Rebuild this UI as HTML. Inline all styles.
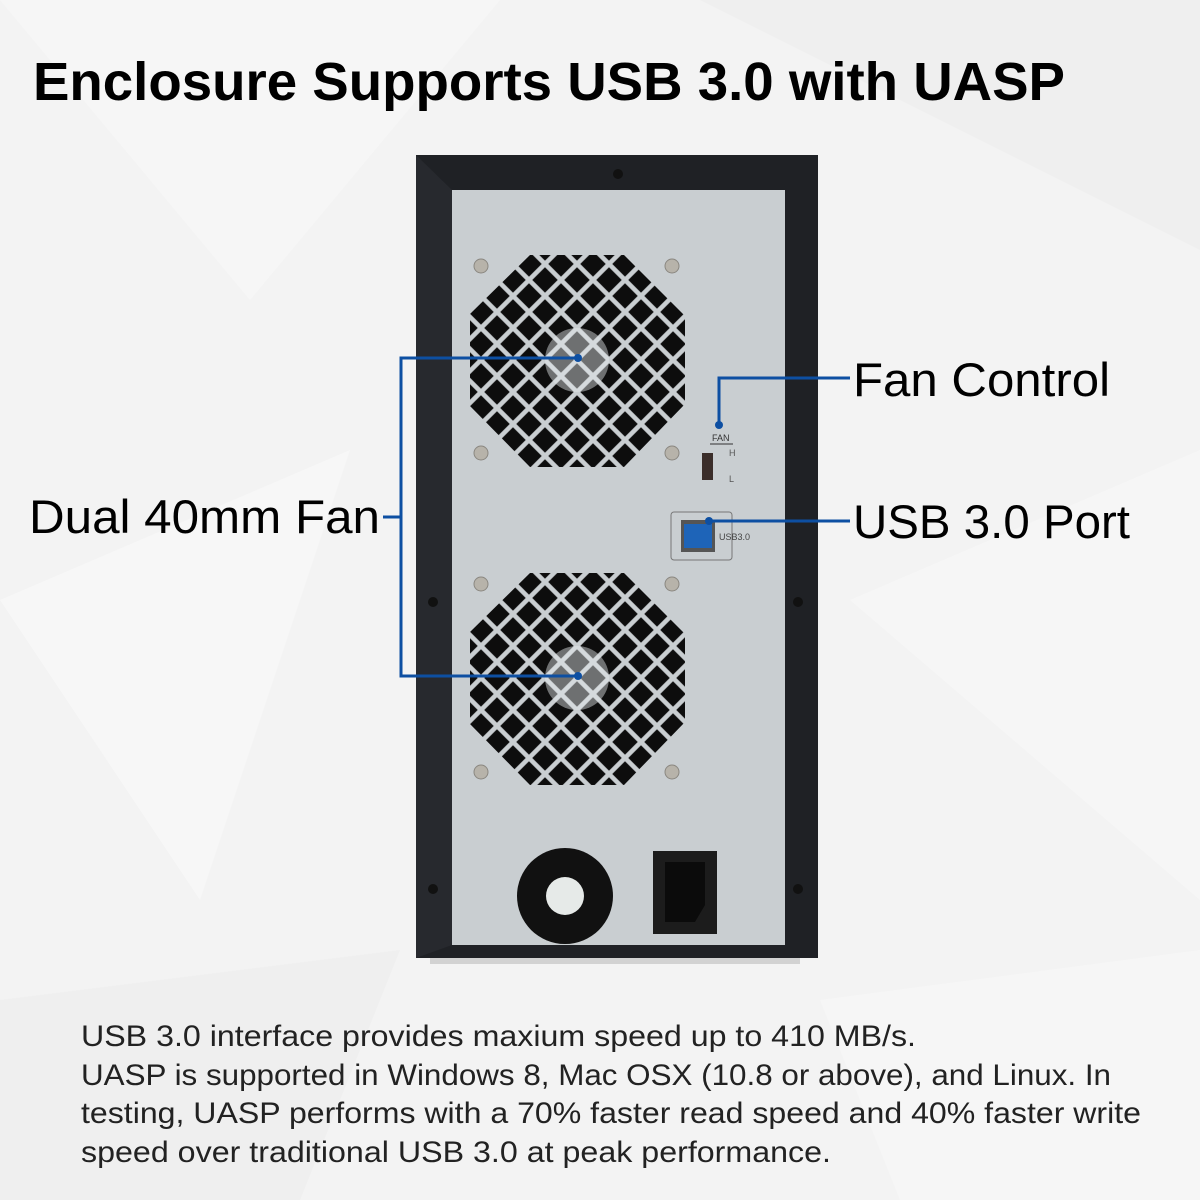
<!DOCTYPE html>
<html><head><meta charset="utf-8"><style>
html,body{margin:0;padding:0;width:1200px;height:1200px;overflow:hidden;background:#f4f4f4}
svg{display:block}
</style></head><body>
<svg width="1200" height="1200" viewBox="0 0 1200 1200" xmlns="http://www.w3.org/2000/svg" font-family="'Liberation Sans','DejaVu Sans',sans-serif">
<defs>
<pattern id="holes" width="22.63" height="22.63" patternUnits="userSpaceOnUse" patternTransform="translate(577,360) rotate(45)">
<rect x="0" y="0" width="22.63" height="22.63" fill="#c9ced1"/>
<rect x="2.3" y="2.3" width="18" height="18" fill="#0d0d0d"/>
</pattern>
<pattern id="holes2" width="22.63" height="22.63" patternUnits="userSpaceOnUse" patternTransform="translate(577,678) rotate(45)">
<rect x="0" y="0" width="22.63" height="22.63" fill="#c9ced1"/>
<rect x="2.3" y="2.3" width="18" height="18" fill="#0d0d0d"/>
</pattern>
<clipPath id="c1"><polygon points="530,255 624,255 685,316 685,404 624,467 530,467 470,406 470,314"/></clipPath>
<clipPath id="c2"><polygon points="530,573 624,573 685,634 685,722 624,785 530,785 470,724 470,632"/></clipPath>
</defs>
<rect width="1200" height="1200" fill="#f3f3f3"/>
<polygon points="0,0 500,0 250,300" fill="#f6f6f6"/>
<polygon points="700,0 1200,0 1200,250" fill="#efefef"/>
<polygon points="0,600 350,450 200,900" fill="#f7f7f7"/>
<polygon points="850,600 1200,450 1200,900" fill="#f6f6f6"/>
<polygon points="0,1000 400,950 300,1200 0,1200" fill="#efefef"/>
<polygon points="820,1000 1200,950 1200,1200 900,1200" fill="#f6f6f6"/>
<!-- enclosure -->
<rect x="430" y="956" width="370" height="8" fill="#888" opacity="0.3"/>
<rect x="416" y="155" width="402" height="803" fill="#1f2125"/>
<polygon points="416,155 452,190 452,945 416,958" fill="#27292e"/>
<rect x="452" y="190" width="333" height="755" fill="#c9ced1"/>
<!-- fans -->
<rect x="470" y="255" width="215" height="212" fill="url(#holes)" clip-path="url(#c1)"/>
<rect x="470" y="573" width="215" height="212" fill="url(#holes2)" clip-path="url(#c2)"/>
<circle cx="577" cy="360" r="32" fill="#e4e8ec" opacity="0.45"/>
<circle cx="577" cy="678" r="32" fill="#e4e8ec" opacity="0.45"/>
<!-- screws -->
<g fill="#b7b3aa" stroke="#8a8780" stroke-width="1">
<circle cx="481" cy="266" r="7"/><circle cx="672" cy="266" r="7"/>
<circle cx="481" cy="453" r="7"/><circle cx="672" cy="453" r="7"/>
<circle cx="481" cy="584" r="7"/><circle cx="672" cy="584" r="7"/>
<circle cx="481" cy="772" r="7"/><circle cx="672" cy="772" r="7"/>
</g>
<g fill="#111"><circle cx="618" cy="174" r="5"/><circle cx="433" cy="602" r="5"/><circle cx="798" cy="602" r="5"/><circle cx="433" cy="889" r="5"/><circle cx="798" cy="889" r="5"/></g>
<!-- switch -->
<text x="712" y="441" font-size="9" fill="#333">FAN</text>
<line x1="710" y1="444" x2="733" y2="444" stroke="#333"/>
<rect x="702" y="453" width="11" height="27" fill="#3b2e2a"/>
<text x="729" y="456" font-size="9" fill="#555">H</text>
<text x="729" y="482" font-size="9" fill="#555">L</text>
<!-- usb -->
<rect x="671" y="512" width="61" height="48" rx="3" fill="none" stroke="#777" stroke-width="1"/>
<rect x="681" y="520" width="34" height="32" fill="#555"/>
<rect x="684" y="524" width="28" height="24" fill="#1e64b8"/>
<text x="719" y="540" font-size="9" fill="#444">USB3.0</text>
<!-- bottom fan -->
<circle cx="565" cy="896" r="48" fill="#111"/>
<circle cx="565" cy="896" r="19" fill="#e6eae8"/>
<!-- power -->
<rect x="653" y="851" width="64" height="83" fill="#1c1c1c"/>
<polygon points="665,862 705,862 705,905 695,922 665,922" fill="#0b0b0b"/>
<!-- connectors -->
<g stroke="#0d4fa2" stroke-width="3" fill="none">
<polyline points="578,358 401,358 401,676 578,676"/>
<line x1="383" y1="517" x2="401" y2="517"/>
<polyline points="719,425 719,378 850,378"/>
<line x1="709" y1="521" x2="850" y2="521"/>
</g>
<g fill="#0d4fa2"><circle cx="578" cy="358" r="4"/><circle cx="578" cy="676" r="4"/><circle cx="719" cy="425" r="4"/><circle cx="709" cy="521" r="4"/></g>
<!-- text -->
<text x="33" y="100" font-size="54" font-weight="bold" fill="#000" textLength="1032" lengthAdjust="spacingAndGlyphs">Enclosure Supports USB 3.0 with UASP</text>
<text x="853" y="396" font-size="47" fill="#000" textLength="257" lengthAdjust="spacingAndGlyphs">Fan Control</text>
<text x="853" y="538" font-size="47" fill="#000" textLength="277" lengthAdjust="spacingAndGlyphs">USB 3.0 Port</text>
<text x="29" y="533" font-size="47" fill="#000" textLength="351" lengthAdjust="spacingAndGlyphs">Dual 40mm Fan</text>
<g font-size="30" fill="#222">
<text x="81" y="1046" textLength="835" lengthAdjust="spacingAndGlyphs">USB 3.0 interface provides maxium speed up to 410 MB/s.</text>
<text x="81" y="1085" textLength="1030" lengthAdjust="spacingAndGlyphs">UASP is supported in Windows 8, Mac OSX (10.8 or above), and Linux. In</text>
<text x="81" y="1123" textLength="1060" lengthAdjust="spacingAndGlyphs">testing, UASP performs with a 70% faster read speed and 40% faster write</text>
<text x="81" y="1162" textLength="750" lengthAdjust="spacingAndGlyphs">speed over traditional USB 3.0 at peak performance.</text>
</g>
</svg>
</body></html>
